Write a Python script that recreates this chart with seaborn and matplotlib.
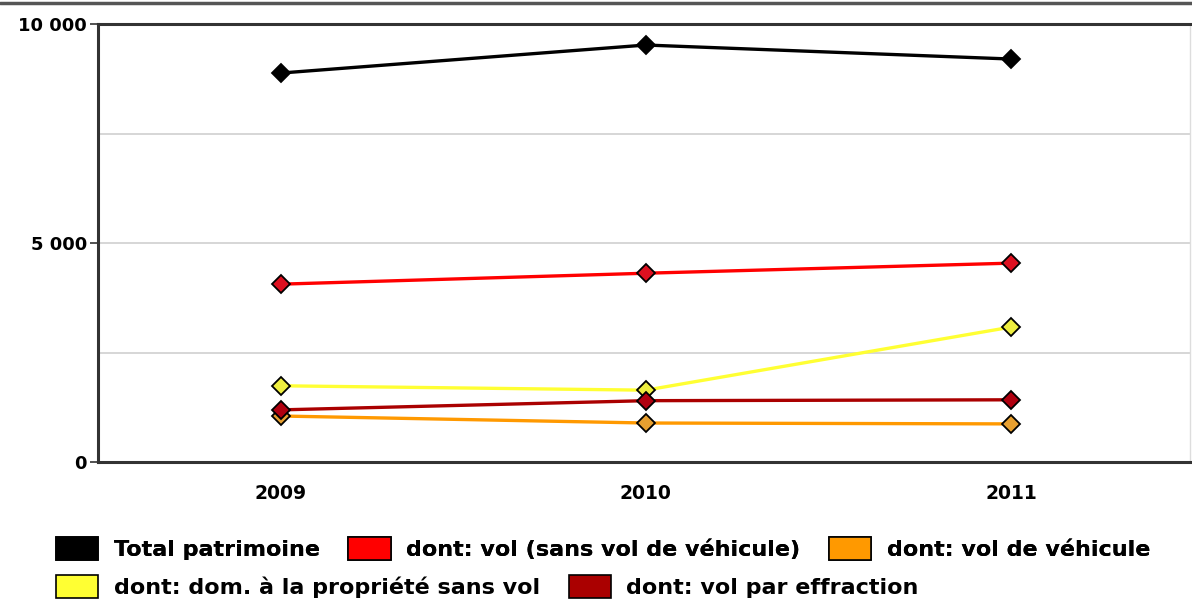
import pandas as pd
import numpy as np
import matplotlib.pyplot as plt
import seaborn as sns
from matplotlib.patches import Patch
from matplotlib.lines import Line2D

# data
years = [2009, 2010, 2011]
series_names = [
    "Total patrimoine",
    "dont: vol (sans vol de véhicule)",
    "dont: vol de véhicule",
    "dont: dom. à la propriété sans vol",
    "dont: vol par effraction",
]
total = [8880, 9520, 9200]
vol = [4060, 4310, 4540]
vol_vehicule = [1050, 890, 870]
dommages = [1740, 1640, 3080]
effraction = [1190, 1400, 1420]

colors = ["#000000", "#ff0000", "#ff9900", "#ffff33", "#aa0000"]
marker_fill = ["#000000", "#dd1020", "#e8a030", "#eeee40", "#b00010"]
yticks = [0, 5000, 10000]
ytick_labels = ["0", "5 000", "10 000"]

df = pd.DataFrame({
    "year": years * 5,
    "value": total + vol + vol_vehicule + dommages + effraction,
    "serie": [s for s in series_names for _ in years],
})

sns.set_theme(style="white")
plt.rcParams['font.family'] = ['DejaVu Sans']
plt.rcParams['text.color'] = 'black'

fig = plt.figure(figsize=(11.92, 6.07), dpi=100)
ax = fig.add_axes([98 / 1192, 1 - 462 / 607, 1092 / 1192, 438 / 607])

for i, name in enumerate(series_names):
    sub = df[df["serie"] == name]
    sns.lineplot(data=sub, x="year", y="value", color=colors[i], linewidth=2.4,
                 marker="D", markersize=9, markerfacecolor=marker_fill[i],
                 markeredgecolor="black", markeredgewidth=1.3, ax=ax, zorder=3 + i)

ax.set_xlim(2008.5, 2011.49)
ax.set_ylim(0, 10000)
ax.set_xticks(years)
ax.set_xticklabels([str(y) for y in years], fontsize=13.5, fontweight="bold", color="black")
ax.set_yticks(yticks)
ax.set_yticklabels(ytick_labels, fontsize=13, fontweight="bold", color="black")
ax.set_yticks([2500, 7500], minor=True)
ax.grid(True, axis="y", which="both", color="#d0d0d0", linewidth=1.2)
ax.tick_params(axis="x", length=0, pad=16)
ax.tick_params(axis="y", which="major", length=6, width=1.2, color="#333333", pad=2, left=True)
ax.tick_params(axis="y", which="minor", length=0)
ax.set_xlabel("")
ax.set_ylabel("")

for side in ["left", "top", "bottom"]:
    ax.spines[side].set_color("#333333")
    ax.spines[side].set_linewidth(2.2)
ax.spines["right"].set_color("#dddddd")
ax.spines["right"].set_linewidth(1)

# top rule across the whole figure
fig.add_artist(Line2D([0, 1], [1 - 3 / 607, 1 - 3 / 607], color="#555555", linewidth=2.5,
                      transform=fig.transFigure))

handles = [Patch(facecolor=c, edgecolor="black", linewidth=1.2) for c in colors]
leg_kw = dict(loc="lower left", frameon=False, handlelength=1.9, handleheight=1.2,
              handletextpad=0.7, columnspacing=1.3, prop={"size": 16, "weight": "bold"})
row1 = fig.legend(handles[:3], series_names[:3], bbox_to_anchor=(0.030, 0.045), ncol=3, **leg_kw)
fig.legend(handles[3:], series_names[3:], bbox_to_anchor=(0.030, -0.018), ncol=2, **leg_kw)
fig.add_artist(row1)

plt.savefig("out.png", dpi=100)
